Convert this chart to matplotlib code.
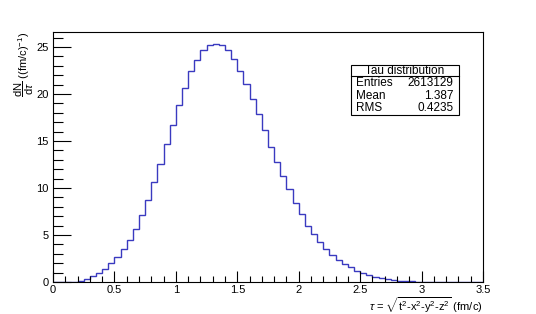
import numpy as np
import matplotlib
matplotlib.use("Agg")
from matplotlib import pyplot as plt
from matplotlib.ticker import MultipleLocator

plt.rcParams['font.family'] = ['Liberation Sans', 'DejaVu Sans']
plt.rcParams['mathtext.fontset'] = 'custom'
plt.rcParams['mathtext.rm'] = 'Liberation Sans'
plt.rcParams['mathtext.it'] = 'Liberation Sans:italic'
plt.rcParams['mathtext.sf'] = 'Liberation Sans'

# histogram binning: 70 bins from 0 to 3.5
x_lo, x_hi, n_bins = 0.0, 3.5, 70

# bin contents
counts = [
    0.0, 0.0, 0.01, 0.05, 0.14, 0.35, 0.64, 0.99, 1.42, 1.98,
    2.66, 3.47, 4.50, 5.67, 7.12, 8.68, 10.6, 12.54, 14.67, 16.68,
    18.85, 20.69, 22.49, 23.59, 24.65, 25.19, 25.36, 25.26, 24.69, 23.70,
    22.46, 21.11, 19.52, 17.82, 16.22, 14.40, 12.79, 11.30, 9.85, 8.43,
    7.19, 5.99, 5.10, 4.21, 3.47, 2.90, 2.34, 1.90, 1.55, 1.17,
    0.92, 0.74, 0.57, 0.39, 0.28, 0.18, 0.13, 0.09, 0.06, 0.04,
    0.03, 0.02, 0.015, 0.01, 0.007, 0.005, 0.003, 0.002, 0.001, 0.001,
]

stats_title = "Tau distribution"
stats_names = ["Entries", "Mean", "RMS"]
stats_values = ["2613129", "1.387", "0.4235"]

edges = np.linspace(x_lo, x_hi, n_bins + 1)

fig = plt.figure(figsize=(5.36, 3.14), dpi=100)
ax = fig.add_axes([0.099, 0.102, 0.802, 0.797])

ax.stairs(counts, edges, color='#3a3ac0', linewidth=1.0, baseline=0)

ax.set_xlim(x_lo, x_hi)
ax.set_ylim(0, max(counts) * 1.05)

ax.xaxis.set_major_locator(MultipleLocator(0.5))
ax.xaxis.set_minor_locator(MultipleLocator(0.1))
ax.yaxis.set_major_locator(MultipleLocator(5))
ax.yaxis.set_minor_locator(MultipleLocator(1))
ax.tick_params(axis='both', which='both', direction='in', top=False, right=False,
               labelsize=8, width=0.8, color='black')
ax.tick_params(axis='x', which='major', length=8, pad=2)
ax.tick_params(axis='x', which='minor', length=4)
ax.tick_params(axis='y', which='major', length=13, pad=3)
ax.tick_params(axis='y', which='minor', length=7)
ax.xaxis.set_major_formatter(plt.FuncFormatter(lambda v, p: f"{v:g}"))
for s in ax.spines.values():
    s.set_linewidth(0.8)

# axis titles
fig.text(0.901, 0.058,
         r'$\tau$ = $\sqrt{\mathrm{t}^2\text{-}\mathrm{x}^2\text{-}\mathrm{y}^2\text{-}\mathrm{z}^2}$ (fm/c)',
         ha='right', va='top', fontsize=8)
fig.text(0.045, 0.899, r'$\dfrac{\mathrm{dN}}{\mathrm{d}\tau}$ ((fm/c)$^{-1}$)',
         rotation=90, ha='center', va='top', fontsize=8)

# stats box
bx0, bx1, by0, by1, bsep = 0.654, 0.857, 0.634, 0.793, 0.757
box = plt.Rectangle((bx0, by0), bx1 - bx0, by1 - by0, transform=fig.transFigure,
                    facecolor='white', edgecolor='black', linewidth=0.8)
fig.add_artist(box)
fig.add_artist(plt.Line2D([bx0, bx1], [bsep, bsep], transform=fig.transFigure,
                          color='black', linewidth=0.8))
fig.text((bx0 + bx1) / 2, (by1 + bsep) / 2, stats_title, ha='center', va='center', fontsize=8.5)
row_h = (bsep - by0) / len(stats_names)
for i, (n, v) in enumerate(zip(stats_names, stats_values)):
    yy = bsep - row_h * (i + 0.5)
    fig.text(bx0 + 0.011, yy, n, ha='left', va='center', fontsize=8.5)
    fig.text(bx1 - 0.011, yy, v, ha='right', va='center', fontsize=8.5)

fig.savefig("out.png", dpi=100)
